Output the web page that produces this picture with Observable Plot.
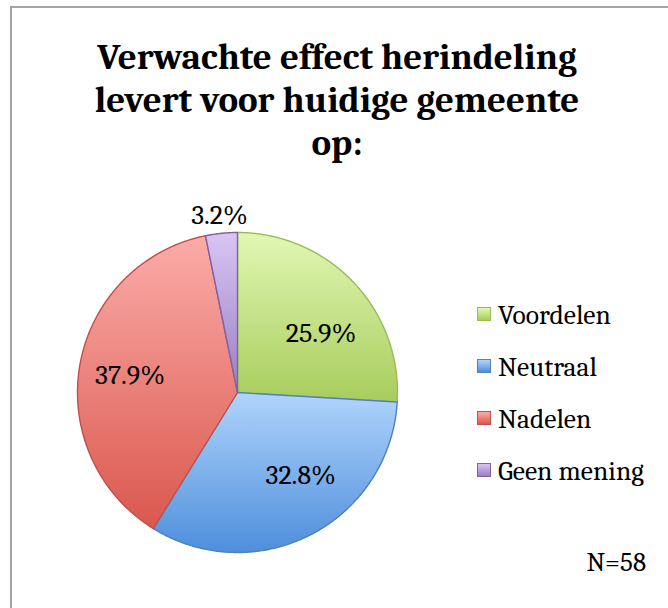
<!DOCTYPE html>
<html>
<head>
<meta charset="utf-8">
<script src="https://cdn.jsdelivr.net/npm/d3@7"></script>
<script src="https://cdn.jsdelivr.net/npm/@observablehq/plot@0.6"></script>
<style>
  html, body { margin: 0; padding: 0; background: #fff; }
  #wrap { position: relative; width: 668px; height: 608px; overflow: hidden; background: #fff;
          font-family: "Caladea", "Liberation Serif", serif; color: #000; }
  #frame { position: absolute; left: 10px; top: 6px; width: 800px; height: 800px;
           border-left: 2px solid #a3a3a3; border-top: 2px solid #a3a3a3; }
  #title { position: absolute; left: 0; width: 674px; top: 36px; text-align: center;
           font-family: "Caladea", serif; font-weight: bold; font-size: 37px; line-height: 43px; }
  #chart { position: absolute; left: 0; top: 0; }
  .leg { position: absolute; left: 477px; font-family: "Caladea", serif; font-size: 27.5px; line-height: 28px; white-space: nowrap; }
  .leg .sw { position: absolute; left: 0; width: 14px; height: 14px; box-sizing: border-box; }
  .leg .tx { position: absolute; left: 21px; top: 0; }
  #n { position: absolute; right: 22px; top: 549px; font-family: "Caladea", serif; font-size: 27px; line-height: 28px; }
</style>
</head>
<body>
<div id="wrap">
  <div id="frame"></div>
  <div id="chart"></div>
  <div id="title"></div>
  <div id="legend"></div>
  <div id="n"></div>
</div>
<script>
// ---- data ----
const titleLines = ["Verwachte effect herindeling", "levert voor huidige gemeente", "op:"];
const categories = ["Voordelen", "Neutraal", "Nadelen", "Geen mening"];
const percentages = [25.9, 32.8, 37.9, 3.2];
const valueLabels = ["25.9%", "32.8%", "37.9%", "3.2%"];
const sampleNote = "N=58";

// ---- styles / label layout (not data) ----
const fillTop    = ["#e1f8b2", "#b0d4fc", "#fcaca8", "#d8c5f3"];
const fillBottom = ["#a8cc5d", "#4e8edb", "#da584e", "#9a7ec4"];
const strokes    = ["#9bbb59", "#4f81bd", "#c0504d", "#8064a2"];
// "best fit" label placement: angular shift (deg) from slice middle and radius fraction
const labelShiftDeg = [8, -10, -1, 0];
const labelRadius   = [0.64, 0.65, 0.68, 1.115];

// ---- geometry from values ----
const total = d3.sum(percentages);
let cum = 0;
const slices = percentages.map((v, i) => {
  const a0 = cum / total * 2 * Math.PI;
  cum += v;
  const a1 = cum / total * 2 * Math.PI;
  const n = Math.max(2, Math.ceil((a1 - a0) / (Math.PI / 360)));
  const ring = [[0, 0]];
  for (let k = 0; k <= n; k++) {
    const t = a0 + (a1 - a0) * k / n;
    ring.push([Math.sin(t), Math.cos(t)]);
  }
  ring.push([0, 0]);
  const mid = (a0 + a1) / 2 + labelShiftDeg[i] * Math.PI / 180;
  const r = labelRadius[i];
  return {
    i, category: categories[i], label: valueLabels[i],
    feature: {type: "Feature", properties: {}, geometry: {type: "Polygon", coordinates: [ring]}},
    lx: r * Math.sin(mid), ly: r * Math.cos(mid)
  };
});

const discRing = d3.range(0, 721).map(k => [Math.sin(k / 720 * 2 * Math.PI), Math.cos(k / 720 * 2 * Math.PI)]);
const disc = {type: "Feature", properties: {}, geometry: {type: "Polygon", coordinates: [discRing]}};

const chart = Plot.plot({
  width: 668,
  height: 608,
  marginLeft: 77,
  marginRight: 271,
  marginTop: 232,
  marginBottom: 56,
  style: {background: "transparent", overflow: "visible", fontFamily: "Caladea, serif"},
  projection: {type: "reflect-y", clip: false,
    domain: {type: "MultiPoint", coordinates: [[-1, -1], [1, 1]]}},
  marks: [
    Plot.geo([disc], {fill: "#000", fillOpacity: 0.45, stroke: "none", ariaLabel: "shadow"}),
    ...slices.map(s => Plot.geo([s.feature], {
      fill: `url(#grad${s.i})`, stroke: strokes[s.i], strokeWidth: 1.4, strokeLinejoin: "round"
    })),
    Plot.text(slices, {x: "lx", y: "ly", text: "label", fontSize: 28,
      fontFamily: "Caladea, serif", fill: "#000", clip: false})
  ]
});

// gradients and shadow filter
const defs = d3.select(chart).insert("defs", ":first-child");
slices.forEach(s => {
  const g = defs.append("linearGradient").attr("id", `grad${s.i}`)
    .attr("x1", 0).attr("y1", 0).attr("x2", 0).attr("y2", 1);
  g.append("stop").attr("offset", "0%").attr("stop-color", fillTop[s.i]);
  g.append("stop").attr("offset", "100%").attr("stop-color", fillBottom[s.i]);
});
const f = defs.append("filter").attr("id", "shadowBlur")
  .attr("x", "-20%").attr("y", "-20%").attr("width", "140%").attr("height", "140%");
f.append("feGaussianBlur").attr("stdDeviation", 3);
d3.select(chart).select('g[aria-label="shadow"]')
  .attr("filter", "url(#shadowBlur)").attr("transform", "translate(0,3)");

document.getElementById("chart").appendChild(chart);

// title
document.getElementById("title").innerHTML = titleLines.map(t => `<div>${t}</div>`).join("");

// legend
const legend = document.getElementById("legend");
const legendBaselines = [325, 377, 429, 481];
categories.forEach((c, i) => {
  const row = document.createElement("div");
  row.className = "leg";
  row.style.top = (legendBaselines[i] - 24) + "px";
  row.innerHTML = `<span class="sw" style="top:6px;background:linear-gradient(${fillTop[i]},${fillBottom[i]});border:1px solid ${strokes[i]}"></span><span class="tx">${c}</span>`;
  legend.appendChild(row);
});

document.getElementById("n").textContent = sampleNote;
</script>
</body>
</html>
